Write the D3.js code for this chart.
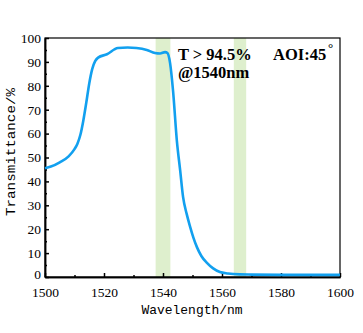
<!DOCTYPE html>
<html><head><meta charset="utf-8">
<script src="https://cdn.jsdelivr.net/npm/d3@7"></script>
<style>body{margin:0;background:#fff}svg{display:block}</style>
</head><body>
<script>
const wavelength = [1500,1502,1505,1508,1510,1511,1512,1513,1514,1515,1516,1517,1518,1521,1524.7,1528,1531,1534.5,1537.3,1539,1540.7,1541.5,1542.4,1543.4,1544.7,1545.8,1546.8,1548,1549.2,1550.3,1551.5,1553,1554.9,1557,1559.3,1562,1566,1570,1580,1590,1600];
const transmittance = [45.5,46.2,48,50.5,53.5,55.8,59.5,65.5,73,81,87,90.3,91.8,93.2,95.8,96,95.8,95,93.7,93.5,94.1,93.7,89.5,78,57,44.8,33.5,26.5,21,16.5,12.5,8.8,5.9,3.6,2.1,1.5,1.1,1.0,0.9,0.9,0.9];
const bands = [[1537.5,1542.5],[1564,1568.2]];
const xTicks = [1500,1520,1540,1560,1580,1600];
const yTicks = [0,10,20,30,40,50,60,70,80,90,100];

const W=363,H=333, L=45,R=340,T=38,B=277;
const svg=d3.select("body").append("svg").attr("width",W).attr("height",H);
const x=d3.scaleLinear().domain([1500,1600]).range([L,R]);
const y=d3.scaleLinear().domain([0,100]).range([B,T]);
const serif="'Liberation Serif','DejaVu Serif',serif";
const mono="'Liberation Mono','DejaVu Sans Mono',monospace";

svg.selectAll("rect.band").data(bands).join("rect").attr("class","band")
 .attr("x",d=>x(d[0])).attr("width",d=>x(d[1])-x(d[0]))
 .attr("y",T).attr("height",B-T).attr("fill","#deefcd");

// frame
svg.append("rect").attr("x",L).attr("y",T).attr("width",R-L).attr("height",B-T)
 .attr("fill","none").attr("stroke","#000").attr("stroke-width",1.2);

// axes
const xAx=svg.append("g").attr("transform",`translate(0,${B})`)
 .call(d3.axisBottom(x).tickValues(xTicks).tickFormat(d3.format("d")).tickSizeInner(-4).tickSizeOuter(0).tickPadding(10));
const xMin=svg.append("g").attr("transform",`translate(0,${B})`)
 .call(d3.axisBottom(x).tickValues([1510,1530,1550,1570,1590]).tickFormat("").tickSizeInner(-2).tickSizeOuter(0));
const yAx=svg.append("g").attr("transform",`translate(${L},0)`)
 .call(d3.axisLeft(y).tickValues(yTicks).tickSizeInner(-4).tickSizeOuter(0).tickPadding(4));
const yMin=svg.append("g").attr("transform",`translate(${L},0)`)
 .call(d3.axisLeft(y).tickValues(d3.range(5,100,10)).tickFormat("").tickSizeInner(-2).tickSizeOuter(0));
[xAx,xMin,yAx,yMin].forEach(g=>{g.select(".domain").attr("stroke","#000").attr("stroke-width",1.5);
 g.selectAll("line").attr("stroke","#000").attr("stroke-width",1.5);
 g.selectAll("text").attr("font-family",serif).attr("font-size",13.5).attr("fill","#000");});
yAx.selectAll("text").filter(d=>d===0).attr("dy","0.1em");

const line=d3.line().x((d,i)=>x(wavelength[i])).y(d=>y(d)).curve(d3.curveMonotoneX);
svg.append("path").datum(transmittance).attr("d",line).attr("fill","none")
 .attr("stroke","#12a0ef").attr("stroke-width",2.6);

svg.append("text").attr("x",192).attr("y",314).attr("text-anchor","middle")
 .attr("font-family",mono).attr("font-size",13).attr("textLength",101).attr("lengthAdjust","spacingAndGlyphs").text("Wavelength/nm");
svg.append("text").attr("transform",`translate(15,152) rotate(-90)`).attr("text-anchor","middle")
 .attr("font-family",mono).attr("font-size",13).attr("textLength",128).attr("lengthAdjust","spacingAndGlyphs").text("Transmittance/%");

const ann=svg.append("g").attr("font-family",serif).attr("font-weight","bold").attr("font-size",16.5).attr("fill","#000");
ann.append("text").attr("x",178).attr("y",60).text("T > 94.5%");
ann.append("text").attr("x",178).attr("y",78).text("@1540nm");
ann.append("text").attr("x",273).attr("y",60).text("AOI:45");
ann.append("text").attr("x",328).attr("y",52).attr("font-size",13).text("°");
</script>
</body></html>
